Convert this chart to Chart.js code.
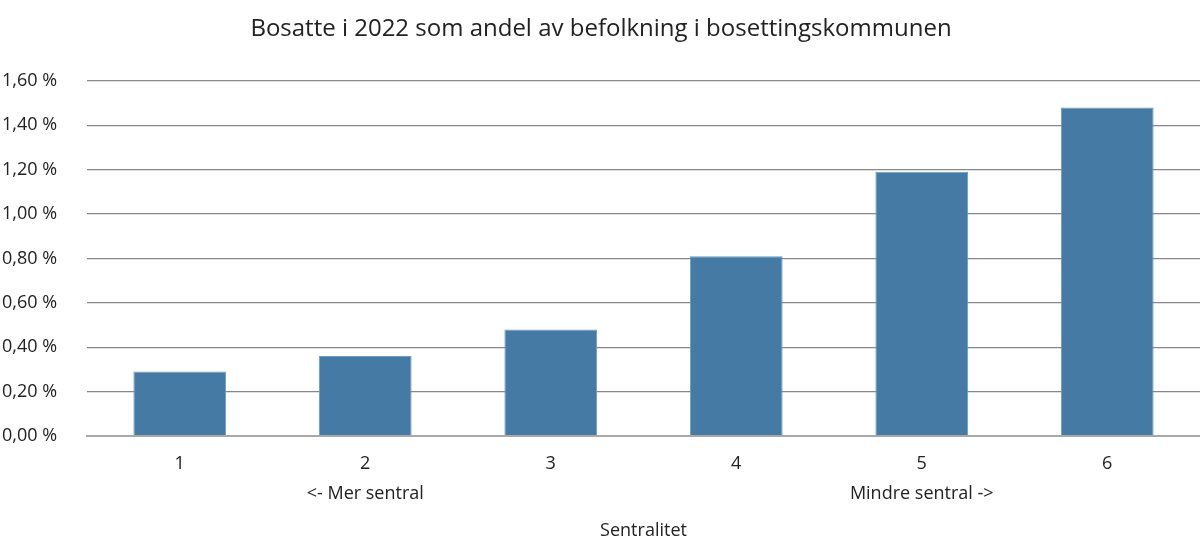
<!DOCTYPE html>
<html>
<head>
<meta charset="utf-8">
<script src="https://cdn.jsdelivr.net/npm/chart.js@4/dist/chart.umd.min.js"></script>
<style>
  html, body { margin: 0; padding: 0; background: #fff; }
  #wrap { width: 1200px; height: 555px; }
</style>
</head>
<body>
<div id="wrap"><canvas id="chart" width="1200" height="555"></canvas></div>
<script>
// Kategorier (sentralitet) og verdier (prosent)
const kategorier = [['1'], ['2', '<- Mer sentral'], ['3'], ['4'], ['5', 'Mindre sentral ->'], ['6']];
const andelBosatte = [0.29, 0.36, 0.48, 0.81, 1.19, 1.48];
const yTicks = [0, 0.2, 0.4, 0.6, 0.8, 1.0, 1.2, 1.4, 1.6];

const fontFamily = '"Open Sans", Lato, sans-serif';
const tekstFarge = '#222';

const ctx = document.getElementById('chart').getContext('2d');
new Chart(ctx, {
  type: 'bar',
  data: {
    labels: kategorier,
    datasets: [{
      label: 'Andel bosatte',
      data: andelBosatte,
      backgroundColor: '#457aa4',
      borderColor: '#6f9cc0',
      borderWidth: 1,
      barPercentage: 0.5,
      categoryPercentage: 1
    }]
  },
  options: {
    responsive: false,
    animation: false,
    layout: { padding: { left: 2, right: 0, top: 0, bottom: 13 } },
    scales: {
      x: {
        grid: { display: false },
        border: { color: '#a8a8a8', width: 2 },
        ticks: {
          color: tekstFarge,
          font: { family: fontFamily, size: 18, lineHeight: 1.65 },
          padding: 5,
          maxRotation: 0
        },
        title: {
          display: true,
          text: 'Sentralitet',
          color: tekstFarge,
          font: { family: fontFamily, size: 18 },
          padding: { top: 7, bottom: 0 }
        }
      },
      y: {
        min: 0,
        max: 1.6,
        afterBuildTicks: axis => { axis.ticks = yTicks.map(v => ({ value: v })); },
        afterFit: axis => { axis.width = 85; },
        border: { display: false },
        grid: {
          color: c => c.tick && c.tick.value === 0 ? '#a8a8a8' : '#888',
          lineWidth: c => c.tick && c.tick.value === 0 ? 2 : 1.3,
          drawTicks: false
        },
        ticks: {
          color: tekstFarge,
          font: { family: fontFamily, size: 18 },
          crossAlign: 'far',
          padding: 0,
          callback: v => v.toFixed(2).replace('.', ',') + ' %'
        }
      }
    },
    plugins: {
      legend: { display: false },
      tooltip: { enabled: false },
      title: {
        display: true,
        text: 'Bosatte i 2022 som andel av befolkning i bosettingskommunen',
        color: tekstFarge,
        font: { family: fontFamily, size: 24, weight: 'normal' },
        padding: { top: 15, bottom: 37 }
      }
    }
  }
});
</script>
</body>
</html>
